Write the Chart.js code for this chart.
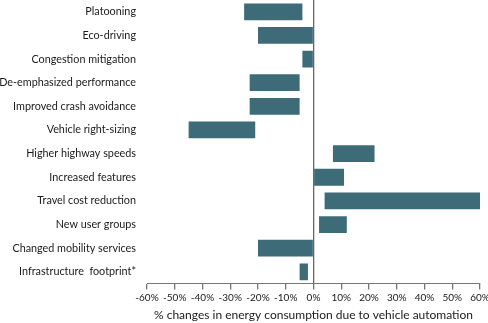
<!DOCTYPE html>
<html>
<head>
<meta charset="utf-8">
<script src="https://cdn.jsdelivr.net/npm/chart.js@4"></script>
<style>
  html, body { margin: 0; padding: 0; background: #fff; }
  #wrap { width: 488px; height: 323px; position: relative; }
</style>
</head>
<body>
<div id="wrap"><canvas id="impactChart"></canvas></div>
<script>
// effect mechanisms, top to bottom
const mechanisms = [
  "Platooning",
  "Eco-driving",
  "Congestion mitigation",
  "De-emphasized performance",
  "Improved crash avoidance",
  "Vehicle right-sizing",
  "Higher highway speeds",
  "Increased features",
  "Travel cost reduction",
  "New user groups",
  "Changed mobility services",
  "Infrastructure  footprint*"
];
// range of change in energy use (%)
const lowEnd  = [-25, -20, -4, -23, -23, -45,  7,  0,  4,  2, -20, -5];
const highEnd = [ -4,   0,  0,  -5,  -5, -21, 22, 11, 60, 12,   0, -2];

const xTicks = [-60, -50, -40, -30, -20, -10, 0, 10, 20, 30, 40, 50, 60];

const ranges = mechanisms.map((_, i) => [lowEnd[i], highEnd[i]]);

const font = "Lato, 'Liberation Sans', sans-serif";
const textColor = "#1a1a1a";

new Chart(document.getElementById("impactChart"), {
  type: "bar",
  data: {
    labels: mechanisms,
    datasets: [{
      label: "Energy change",
      data: ranges,
      backgroundColor: "#3e6b78",
      borderWidth: 0,
      barPercentage: 0.71,
      categoryPercentage: 1
    }]
  },
  options: {
    indexAxis: "y",
    responsive: true,
    maintainAspectRatio: false,
    animation: false,
    layout: { padding: { top: 0, right: 0, left: 0, bottom: 1 } },
    plugins: {
      legend: { display: false },
      tooltip: { enabled: false }
    },
    scales: {
      x: {
        min: -60,
        max: 60,
        afterBuildTicks: scale => {
          scale.ticks = xTicks.map(v => ({ value: v }));
        },
        afterFit: scale => { scale.paddingRight = 8; },
        ticks: {
          callback: v => v + "%",
          color: textColor,
          font: { family: font, size: 10 },
          padding: 2,
          maxRotation: 0
        },
        grid: {
          drawOnChartArea: true,
          color: ctx => (ctx.tick && ctx.tick.value === 0) ? "#666" : "rgba(0,0,0,0)",
          lineWidth: 1.3,
          tickColor: "#777",
          tickLength: 6
        },
        border: { display: true, color: "#777", width: 1 },
        title: {
          display: true,
          text: "% changes in energy consumption due to vehicle automation",
          color: textColor,
          font: { family: font, size: 12 },
          padding: { top: 2, bottom: 0 }
        }
      },
      y: {
        ticks: {
          color: textColor,
          font: { family: font, size: 10.8 },
          padding: 11
        },
        afterFit: scale => {
          scale.width = 147;
          scale.paddingTop = 0;
          scale.paddingBottom = 0;
        },
        grid: { display: false, drawTicks: false },
        border: { display: false }
      }
    }
  }
});
</script>
</body>
</html>
